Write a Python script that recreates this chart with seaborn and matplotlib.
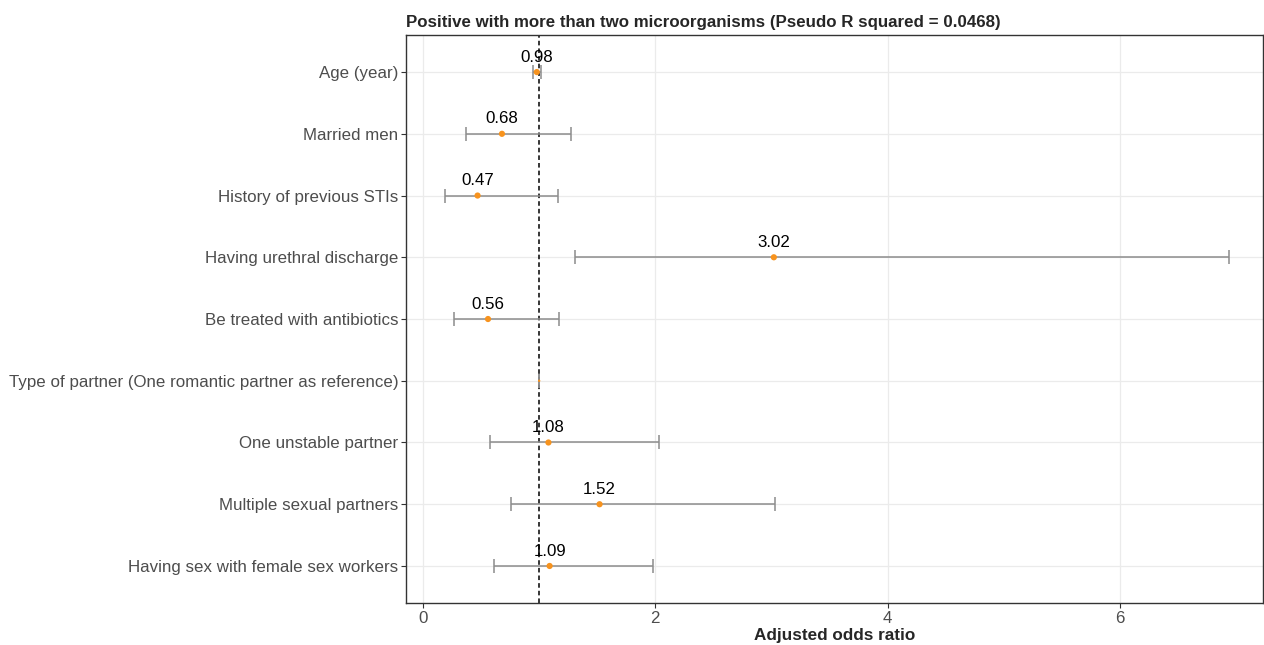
import numpy as np
import pandas as pd
import seaborn as sns
import matplotlib.pyplot as plt

# Odds ratios
variables = ['Age (year)', 'Married men', 'History of previous STIs',
             'Having urethral discharge', 'Be treated with antibiotics',
             'Type of partner (One romantic partner as reference)',
             'One unstable partner', 'Multiple sexual partners',
             'Having sex with female sex workers']
odds_ratio = [0.98, 0.68, 0.47, 3.02, 0.56, 1.00, 1.08, 1.52, 1.09]
ci_low = [0.95, 0.37, 0.19, 1.31, 0.27, 1.00, 0.58, 0.76, 0.61]
ci_high = [1.02, 1.27, 1.16, 6.94, 1.17, 1.00, 2.03, 3.03, 1.98]
labels = ['0.98', '0.68', '0.47', '3.02', '0.56', '', '1.08', '1.52', '1.09']

df = pd.DataFrame({'variable': variables, 'OR': odds_ratio,
                   'lo': ci_low, 'hi': ci_high, 'label': labels})
df['pos'] = np.arange(len(df))

sns.set_theme(style='whitegrid')
plt.rcParams['font.family'] = ['Liberation Sans', 'DejaVu Sans']

fig = plt.figure(figsize=(12.64, 6.45), dpi=100)
ax = fig.add_axes([0.3212, 0.0651, 0.678, 0.8806])

# confidence intervals
ax.errorbar(df['OR'], df['pos'],
            xerr=[df['OR'] - df['lo'], df['hi'] - df['OR']],
            fmt='none', ecolor='#8c8c8c', elinewidth=1.1, capsize=5, capthick=1.1,
            zorder=2)
ref = df['label'] == ''
sns.scatterplot(data=df[~ref], x='OR', y='pos', color='#F7931E', s=20,
                edgecolor='none', ax=ax, zorder=3)
sns.scatterplot(data=df[ref], x='OR', y='pos', color='#F7931E', s=3,
                edgecolor='none', ax=ax, zorder=3)

for _, r in df.iterrows():
    if r['label']:
        ax.text(r['OR'], r['pos'] - 0.12, r['label'], ha='center', va='bottom',
                fontsize=12.2, color='black')

ax.axvline(1, color='black', linestyle=(0, (3, 2)), linewidth=1.1, zorder=1)

ax.set_xlim(-0.146, 7.23)
ax.set_ylim(len(df) - 0.4, -0.6)
ax.set_xticks([0, 2, 4, 6])
ax.set_yticks(df['pos'])
ax.set_yticklabels(df['variable'])
ax.tick_params(axis='both', labelsize=12.2, labelcolor='#4d4d4d', length=3.5,
               color='#333333', width=0.8, pad=2, left=True, bottom=True)
ax.grid(True, color='#ebebeb', linewidth=0.9)
for s in ax.spines.values():
    s.set_color('#333333')
    s.set_linewidth(1.0)

ax.set_xlabel('Adjusted odds ratio', fontsize=12.3, fontweight='bold', labelpad=2)
ax.set_ylabel('')
ax.set_title('Positive with more than two microorganisms (Pseudo R squared = 0.0468)',
             fontsize=12.2, fontweight='bold', loc='left', pad=6)

fig.savefig('out.png', dpi=100)
